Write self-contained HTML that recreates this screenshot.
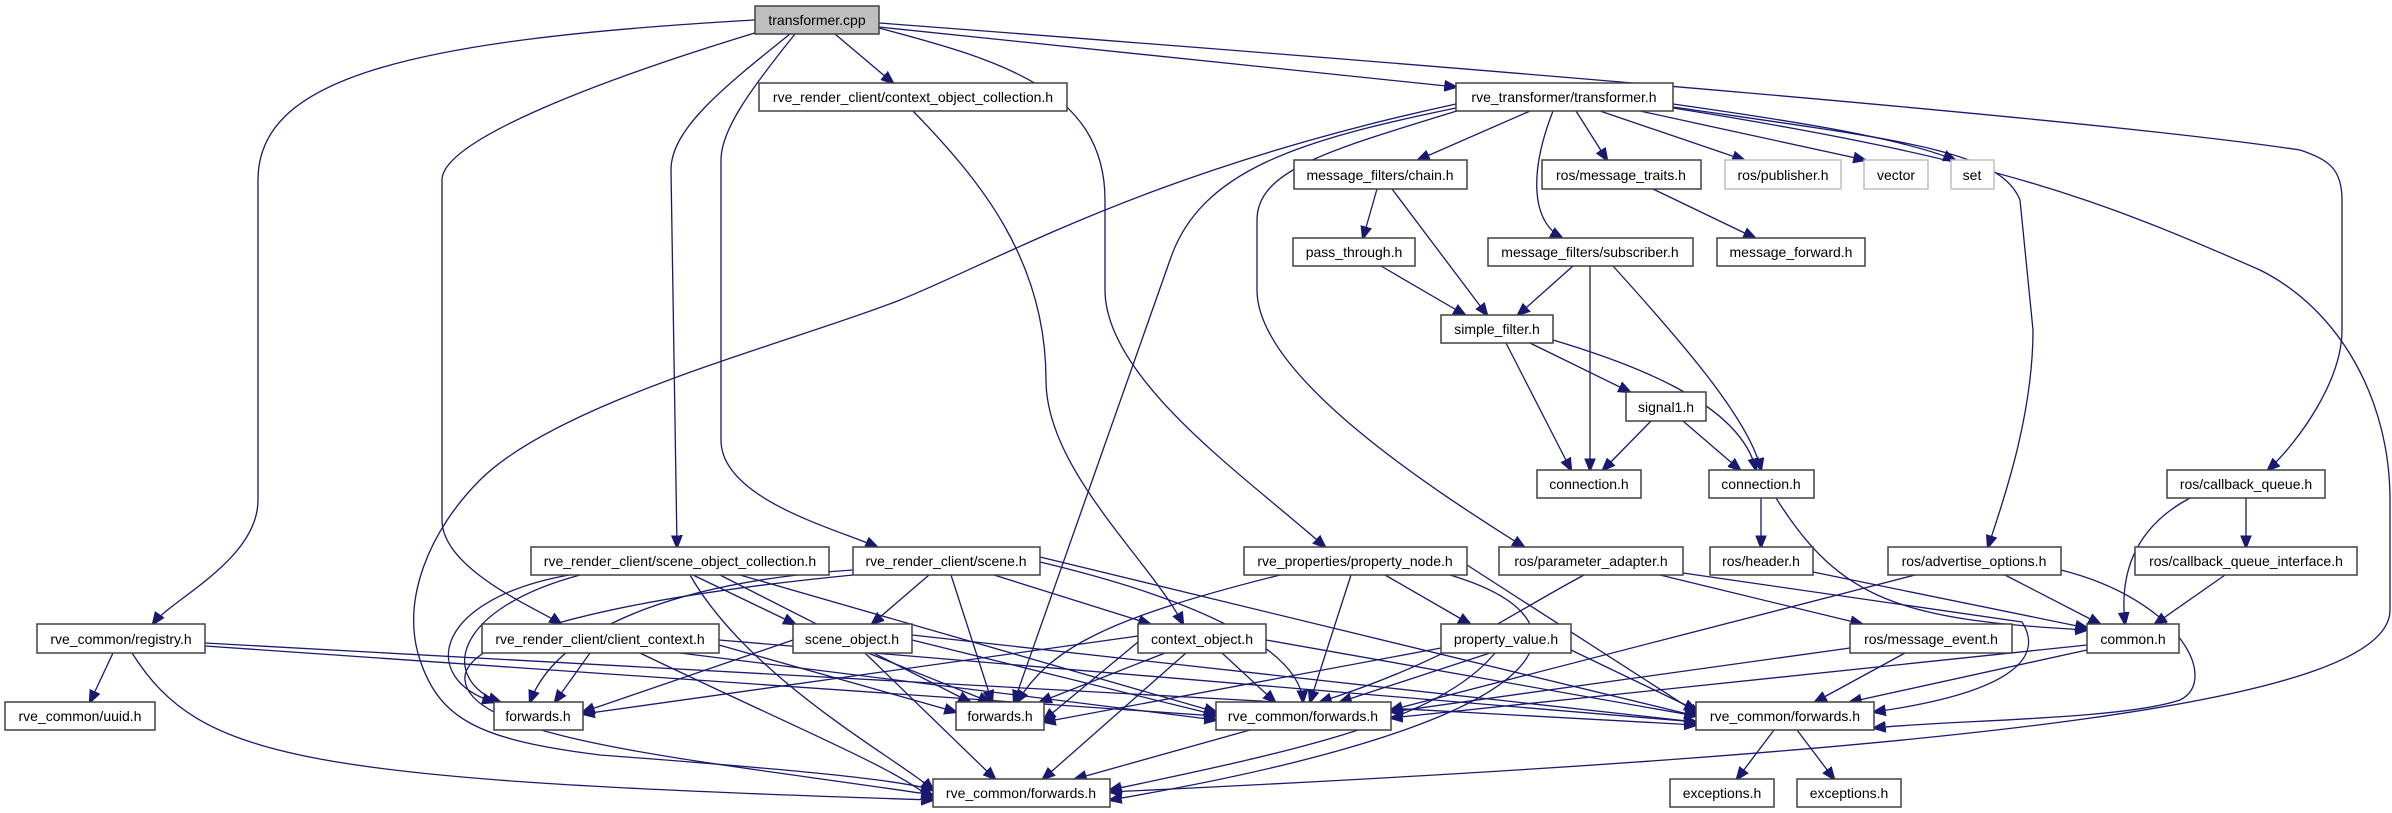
<!DOCTYPE html>
<html><head><meta charset="utf-8"><style>
html,body{margin:0;padding:0;background:#fff;}
svg{display:block}
text{font-family:"Liberation Sans",sans-serif;font-size:14px;fill:#000;text-anchor:middle;dominant-baseline:central}
.n{fill:#fff;stroke:#404040;stroke-width:1.5}
.g{fill:#fff;stroke:#bfbfbf;stroke-width:1.5}
.e path{fill:none;stroke:#191970;stroke-width:1.3;marker-end:url(#a)}
</style></head><body>
<svg width="2392" height="813" viewBox="0 0 2392 813" xmlns="http://www.w3.org/2000/svg">
<defs><marker id="a" viewBox="0 0 10 10" refX="9" refY="5" markerWidth="13" markerHeight="13" markerUnits="userSpaceOnUse" orient="auto"><path d="M0,1 L10,5 L0,9 z" fill="#191970" stroke="#191970"/></marker></defs>
<g class="e">
<path d="M755,20 C400,40 258,80 258,180 L258,500 C258,560 170,600 153,624"/>
<path d="M758,32 C600,80 442,140 442,180 L442,520 C442,570 540,610 561,624"/>
<path d="M790,34 C720,90 671,130 671,170 L677,547"/>
<path d="M795,34 C750,90 721,130 721,160 L721,440 C721,500 840,530 877,547"/>
<path d="M835,34 L893,83"/>
<path d="M879,28 C1000,60 1105,90 1105,200 L1105,290 C1105,380 1250,480 1325,547"/>
<path d="M879,27 L1456,87"/>
<path d="M879,23 C1500,70 2100,120 2300,150 C2330,160 2342,170 2342,200 L2342,330 C2342,380 2300,440 2268,470"/>
<path d="M913,111 C980,180 1046,260 1046,380 C1046,470 1150,560 1183,624"/>
<path d="M1456,104 C1150,170 1000,260 900,300 C800,340 560,400 480,480 C430,530 400,600 420,660 C440,720 480,740 600,755 C800,770 900,780 933,790"/>
<path d="M1456,108 C1300,140 1200,170 1170,260 L1014,702"/>
<path d="M1460,110 C1330,150 1257,170 1257,220 L1257,290 C1257,380 1450,500 1524,547"/>
<path d="M1530,111 L1418,160"/>
<path d="M1553,111 C1530,170 1530,220 1562,238"/>
<path d="M1576,111 L1607,160"/>
<path d="M1600,111 L1744,160"/>
<path d="M1640,111 L1865,160"/>
<path d="M1673,104 C1800,122 1900,138 1955,160"/>
<path d="M1673,107 C1900,140 2000,150 2020,200 L2033,330 C2033,420 2000,510 1988,547"/>
<path d="M1673,108 C2000,160 2100,200 2260,270 C2340,310 2390,400 2390,500 L2390,610 C2390,700 2000,750 1110,792"/>
<path d="M1377,189 L1363,238"/>
<path d="M1392,189 L1487,315"/>
<path d="M1381,266 L1465,315"/>
<path d="M1573,266 L1518,315"/>
<path d="M1590,266 L1590,470"/>
<path d="M1613,266 C1680,340 1750,420 1761,470"/>
<path d="M1653,189 L1755,238"/>
<path d="M1506,343 L1571,470"/>
<path d="M1530,343 L1630,392"/>
<path d="M1553,340 C1620,360 1740,400 1756,470"/>
<path d="M1651,421 L1603,470"/>
<path d="M1683,421 L1740,470"/>
<path d="M1761,498 L1761,547"/>
<path d="M1776,498 C1840,600 1900,620 2087,630"/>
<path d="M2190,498 C2130,530 2120,580 2125,624"/>
<path d="M2246,498 L2246,547"/>
<path d="M2225,575 L2155,624"/>
<path d="M1915,575 L1391,710"/>
<path d="M2005,575 L2100,624"/>
<path d="M2061,570 C2180,600 2220,680 2180,700 C2120,720 1950,720 1874,728"/>
<path d="M1813,572 L2087,628"/>
<path d="M1584,575 C1500,620 1450,660 1320,702"/>
<path d="M1660,575 L1862,624"/>
<path d="M1683,573 L2022,622 C2040,650 2030,690 1874,712"/>
<path d="M1850,648 L1391,712"/>
<path d="M1905,653 L1815,702"/>
<path d="M2087,645 L1391,718"/>
<path d="M2087,650 L1850,702"/>
<path d="M1774,730 L1737,779"/>
<path d="M1797,730 L1834,779"/>
<path d="M1250,730 L1075,779"/>
<path d="M868,653 L990,702"/>
<path d="M793,640 L583,712"/>
<path d="M865,653 L995,779"/>
<path d="M912,640 L1216,715"/>
<path d="M912,635 L1696,722"/>
<path d="M1138,642 L1044,720"/>
<path d="M1165,653 L1040,702"/>
<path d="M1138,636 L583,714"/>
<path d="M1222,653 L1275,702"/>
<path d="M1186,653 L1043,779"/>
<path d="M1266,640 L1696,716"/>
<path d="M1490,653 L1340,702"/>
<path d="M1441,648 L1044,722"/>
<path d="M1495,653 C1440,720 1300,750 1110,790"/>
<path d="M1571,650 L1696,710"/>
<path d="M1280,575 C1100,620 1050,650 1017,702"/>
<path d="M1351,575 L1310,702"/>
<path d="M1385,575 L1470,624"/>
<path d="M1450,575 C1600,620 1580,720 1110,800"/>
<path d="M1467,565 L1700,715"/>
<path d="M929,575 L872,624"/>
<path d="M994,575 L1150,624"/>
<path d="M951,575 L992,702"/>
<path d="M1040,562 C1200,600 1300,650 1303,702"/>
<path d="M1040,557 L1696,716"/>
<path d="M853,570 C700,580 560,620 530,702"/>
<path d="M853,575 C600,600 460,640 465,680 C470,740 700,760 933,795"/>
<path d="M693,575 L795,624"/>
<path d="M720,575 L970,702"/>
<path d="M740,575 L1216,712"/>
<path d="M569,575 C430,600 420,680 494,702"/>
<path d="M580,575 C450,610 440,680 500,702"/>
<path d="M690,575 C750,680 900,760 933,790"/>
<path d="M590,653 L555,702"/>
<path d="M719,645 L956,712"/>
<path d="M640,653 C800,730 900,770 933,800"/>
<path d="M680,653 L1216,720"/>
<path d="M719,640 L1696,722"/>
<path d="M113,653 L90,702"/>
<path d="M132,653 C200,760 300,780 933,800"/>
<path d="M205,646 L1216,716"/>
<path d="M205,643 L1696,725"/>
</g>
<rect x="755" y="6" width="124" height="28" fill="#bfbfbf" stroke="#404040" stroke-width="1.5"/><text x="817" y="20">transformer.cpp</text>
<rect class="n" x="759" y="83" width="308" height="28"/><text x="913" y="97">rve_render_client/context_object_collection.h</text>
<rect class="n" x="1456" y="83" width="217" height="28"/><text x="1564" y="97">rve_transformer/transformer.h</text>
<rect class="n" x="1294" y="160" width="173" height="29"/><text x="1380" y="175">message_filters/chain.h</text>
<rect class="n" x="1542" y="160" width="159" height="29"/><text x="1621" y="175">ros/message_traits.h</text>
<rect class="g" x="1725" y="160" width="116" height="29"/><text x="1783" y="175">ros/publisher.h</text>
<rect class="g" x="1864" y="160" width="64" height="29"/><text x="1896" y="175">vector</text>
<rect class="g" x="1951" y="160" width="43" height="29"/><text x="1972" y="175">set</text>
<rect class="n" x="1293" y="238" width="122" height="28"/><text x="1354" y="252">pass_through.h</text>
<rect class="n" x="1488" y="238" width="205" height="28"/><text x="1590" y="252">message_filters/subscriber.h</text>
<rect class="n" x="1717" y="238" width="148" height="28"/><text x="1791" y="252">message_forward.h</text>
<rect class="n" x="1441" y="315" width="112" height="28"/><text x="1497" y="329">simple_filter.h</text>
<rect class="n" x="1626" y="392" width="80" height="29"/><text x="1666" y="407">signal1.h</text>
<rect class="n" x="1537" y="470" width="104" height="28"/><text x="1589" y="484">connection.h</text>
<rect class="n" x="1709" y="470" width="105" height="28"/><text x="1761" y="484">connection.h</text>
<rect class="n" x="2167" y="470" width="158" height="28"/><text x="2246" y="484">ros/callback_queue.h</text>
<rect class="n" x="531" y="547" width="298" height="28"/><text x="680" y="561">rve_render_client/scene_object_collection.h</text>
<rect class="n" x="853" y="547" width="187" height="28"/><text x="946" y="561">rve_render_client/scene.h</text>
<rect class="n" x="1244" y="547" width="223" height="28"/><text x="1355" y="561">rve_properties/property_node.h</text>
<rect class="n" x="1499" y="547" width="184" height="28"/><text x="1591" y="561">ros/parameter_adapter.h</text>
<rect class="n" x="1710" y="547" width="103" height="28"/><text x="1761" y="561">ros/header.h</text>
<rect class="n" x="1888" y="547" width="173" height="28"/><text x="1974" y="561">ros/advertise_options.h</text>
<rect class="n" x="2135" y="547" width="222" height="28"/><text x="2246" y="561">ros/callback_queue_interface.h</text>
<rect class="n" x="37" y="624" width="168" height="29"/><text x="121" y="639">rve_common/registry.h</text>
<rect class="n" x="482" y="624" width="237" height="29"/><text x="600" y="639">rve_render_client/client_context.h</text>
<rect class="n" x="793" y="624" width="119" height="29"/><text x="852" y="639">scene_object.h</text>
<rect class="n" x="1138" y="624" width="128" height="29"/><text x="1202" y="639">context_object.h</text>
<rect class="n" x="1441" y="624" width="130" height="29"/><text x="1506" y="639">property_value.h</text>
<rect class="n" x="1850" y="624" width="162" height="29"/><text x="1931" y="639">ros/message_event.h</text>
<rect class="n" x="2087" y="624" width="92" height="29"/><text x="2133" y="639">common.h</text>
<rect class="n" x="5" y="702" width="150" height="28"/><text x="80" y="716">rve_common/uuid.h</text>
<rect class="n" x="494" y="702" width="89" height="28"/><text x="538" y="716">forwards.h</text>
<rect class="n" x="956" y="702" width="88" height="28"/><text x="1000" y="716">forwards.h</text>
<rect class="n" x="1216" y="702" width="175" height="28"/><text x="1303" y="716">rve_common/forwards.h</text>
<rect class="n" x="1696" y="702" width="178" height="28"/><text x="1785" y="716">rve_common/forwards.h</text>
<rect class="n" x="933" y="779" width="177" height="28"/><text x="1021" y="793">rve_common/forwards.h</text>
<rect class="n" x="1670" y="779" width="104" height="28"/><text x="1722" y="793">exceptions.h</text>
<rect class="n" x="1797" y="779" width="104" height="28"/><text x="1849" y="793">exceptions.h</text>
</svg>
</body></html>
